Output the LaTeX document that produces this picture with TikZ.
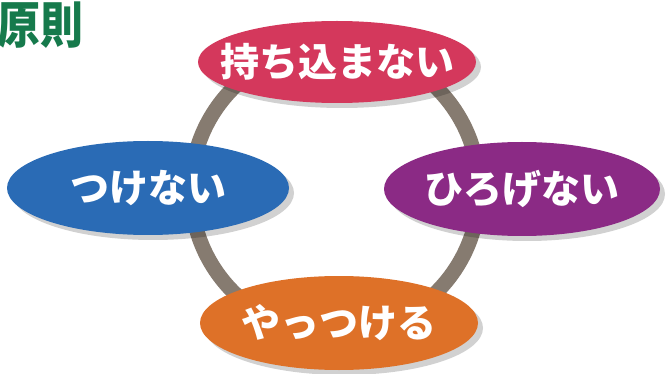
\documentclass[tikz,border=0pt]{standalone}
\usepackage{fontspec}
\newfontfamily\cjk{Noto Sans CJK JP Black}
\usetikzlibrary{shapes.geometric,shadows}
\definecolor{topc}{HTML}{D4385C}
\definecolor{leftc}{HTML}{2A6BB5}
\definecolor{rightc}{HTML}{8B2A85}
\definecolor{botc}{HTML}{DE7128}
\definecolor{ringc}{HTML}{867B70}
\definecolor{titlec}{HTML}{167A4C}
\begin{document}
\begin{tikzpicture}[x=1pt,y=-1pt,
  oval/.style={ellipse, inner sep=0pt, draw=none,
    drop shadow={shadow xshift=5pt, shadow yshift=-5pt, fill=black, opacity=0.18}},
  lab/.style={font=\cjk\fontsize{39}{39}\selectfont, text=white, inner sep=0pt},
  ringline/.style={draw=ringc, line width=15pt}
]
\useasboundingbox (0,0) rectangle (672,374);
\fill[white] (0,0) rectangle (672,374);

\node[anchor=east, inner sep=0pt, text=titlec, xscale=0.86, font=\cjk\fontsize{50}{50}\selectfont] (title) at (84,25) {原則};

\coordinate (ringcenter) at (335,190);
\draw[ringline] (ringcenter) circle[radius=144];

\node[oval, fill=topc, minimum width=278pt, minimum height=82pt] (top) at (337,62) {};
\node[oval, fill=leftc, minimum width=282pt, minimum height=94pt] (left) at (148,188) {};
\node[oval, fill=rightc, minimum width=276pt, minimum height=94pt] (right) at (522,189) {};
\node[oval, fill=botc, minimum width=278pt, minimum height=94pt] (bottom) at (339,323) {};

\node[lab] (topt) at (top.center) {持ち込まない};
\node[lab] (leftt) at (left.center) {つけない};
\node[lab] (rightt) at (right.center) {ひろげない};
\node[lab] (bott) at (bottom.center) {やっつける};
\end{tikzpicture}
\end{document}
